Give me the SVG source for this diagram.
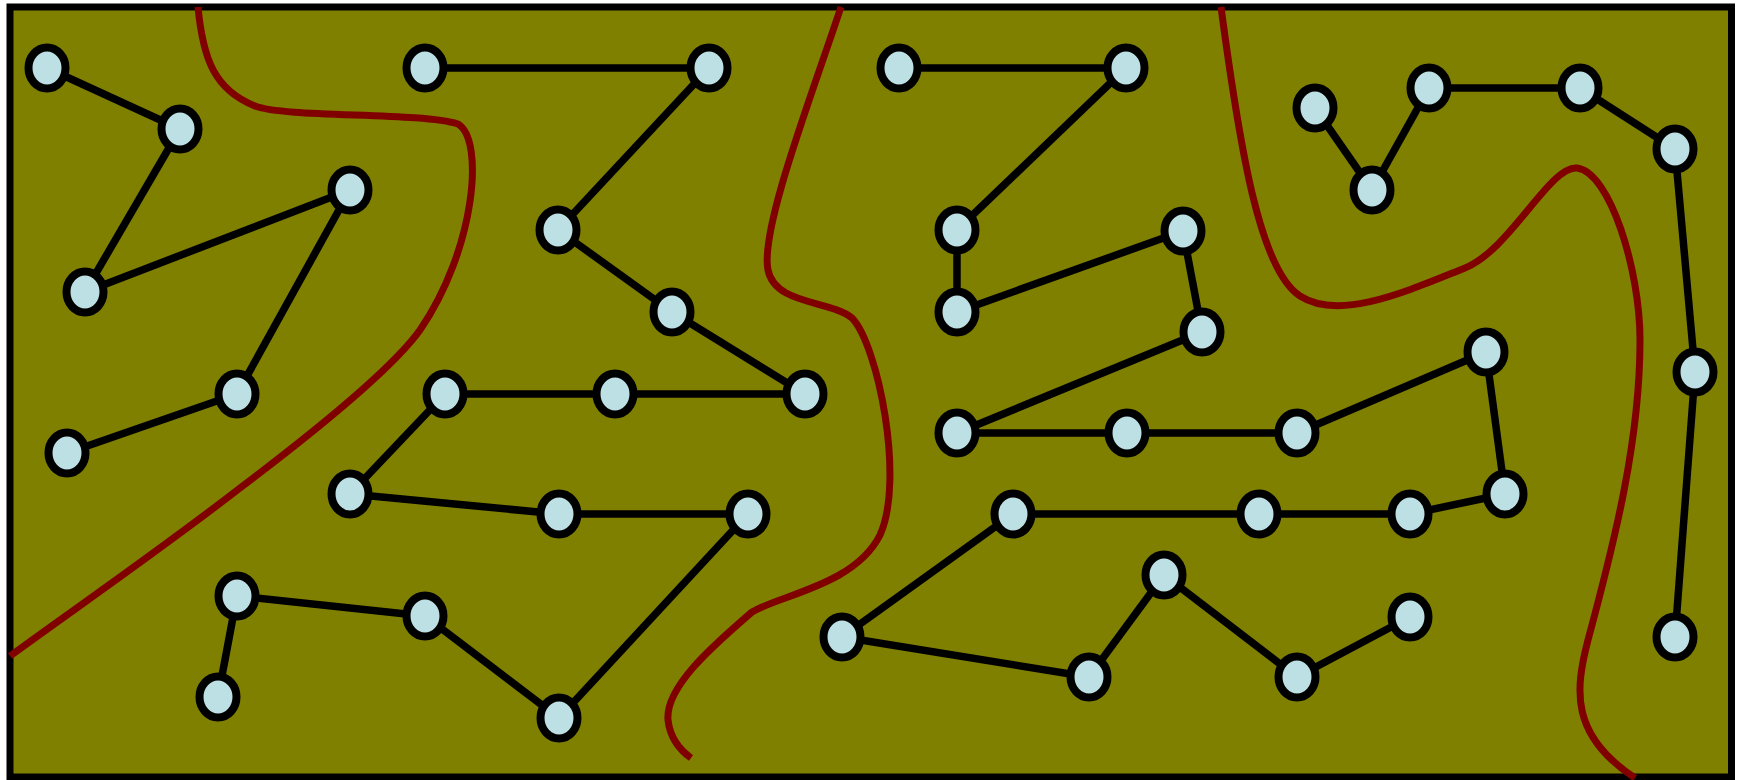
<svg xmlns="http://www.w3.org/2000/svg" width="1740" height="780" viewBox="0 0 1740 780">
<style>
.frame{fill:#808000;stroke:#000;stroke-width:7}
.border{fill:none;stroke:#800000;stroke-width:7}
.edge{stroke:#000;stroke-width:7.5;fill:none}
.node use{fill:#bde0e4;stroke:#000;stroke-width:8}
</style>
<defs>
<ellipse id="n" rx="18.5" ry="20.5"/>
</defs>
<rect class="frame" x="10" y="7" width="1721.5" height="770"/>
<g id="boundaries">
<path class="border" d="M 198 7 C 203 60, 215 90, 255 106 C 285 118, 420 112, 458 124 C 485 140, 475 250, 420 330 C 395 365, 330 420, 240 488 C 160 550, 80 605, 10 656"/>
<path class="border" d="M 841 7 C 810 100, 760 230, 768 270 C 775 305, 830 300, 852 318 C 878 345, 905 480, 880 535 C 855 585, 780 595, 752 612 C 720 640, 665 685, 668 720 C 670 738, 680 750, 691 758"/>
<path class="border" d="M 1221 7 C 1240 150, 1260 270, 1300 296 C 1340 322, 1410 290, 1465 268 C 1510 250, 1550 165, 1577 168 C 1610 172, 1640 270, 1640 340 C 1640 440, 1615 540, 1588 640 C 1575 690, 1570 735, 1635 778"/>
</g>
<g id="connectors" class="edge">
<line x1="47" y1="68" x2="180" y2="129"/>
<line x1="180" y1="129" x2="85" y2="292"/>
<line x1="85" y1="292" x2="350" y2="190"/>
<line x1="350" y1="190" x2="237" y2="394"/>
<line x1="237" y1="394" x2="67" y2="453"/>
<line x1="425" y1="68" x2="709" y2="68"/>
<line x1="709" y1="68" x2="558" y2="230"/>
<line x1="558" y1="230" x2="672" y2="312"/>
<line x1="672" y1="312" x2="805" y2="394"/>
<line x1="445" y1="394" x2="615" y2="394"/>
<line x1="615" y1="394" x2="805" y2="394"/>
<line x1="445" y1="394" x2="350" y2="494"/>
<line x1="350" y1="494" x2="559" y2="514"/>
<line x1="559" y1="514" x2="748" y2="514"/>
<line x1="748" y1="514" x2="559" y2="718"/>
<line x1="559" y1="718" x2="425" y2="616"/>
<line x1="425" y1="616" x2="237" y2="596"/>
<line x1="237" y1="596" x2="218" y2="697"/>
<line x1="899" y1="68" x2="1126" y2="68"/>
<line x1="1126" y1="68" x2="957" y2="230"/>
<line x1="957" y1="230" x2="957" y2="312"/>
<line x1="957" y1="312" x2="1183" y2="231"/>
<line x1="1183" y1="231" x2="1202" y2="332"/>
<line x1="1202" y1="332" x2="957" y2="433"/>
<line x1="957" y1="433" x2="1127" y2="433"/>
<line x1="1127" y1="433" x2="1297" y2="433"/>
<line x1="1297" y1="433" x2="1486" y2="352"/>
<line x1="1486" y1="352" x2="1505" y2="494"/>
<line x1="1505" y1="494" x2="1410" y2="514"/>
<line x1="1410" y1="514" x2="1259" y2="514"/>
<line x1="1259" y1="514" x2="1013" y2="514"/>
<line x1="1013" y1="514" x2="842" y2="637"/>
<line x1="842" y1="637" x2="1089" y2="677"/>
<line x1="1089" y1="677" x2="1164" y2="575"/>
<line x1="1164" y1="575" x2="1297" y2="677"/>
<line x1="1297" y1="677" x2="1410" y2="617"/>
<line x1="1315" y1="108" x2="1372" y2="190"/>
<line x1="1372" y1="190" x2="1429" y2="88"/>
<line x1="1429" y1="88" x2="1580" y2="88"/>
<line x1="1580" y1="88" x2="1675" y2="149"/>
<line x1="1675" y1="149" x2="1695" y2="372"/>
<line x1="1695" y1="372" x2="1675" y2="637"/>
</g>
<g class="node" id="n1"><use href="#n" x="47" y="68"/></g>
<g class="node" id="n2"><use href="#n" x="180" y="129"/></g>
<g class="node" id="n3"><use href="#n" x="85" y="292"/></g>
<g class="node" id="n4"><use href="#n" x="350" y="190"/></g>
<g class="node" id="n5"><use href="#n" x="237" y="394"/></g>
<g class="node" id="n6"><use href="#n" x="67" y="453"/></g>
<g class="node" id="n7"><use href="#n" x="425" y="68"/></g>
<g class="node" id="n8"><use href="#n" x="709" y="68"/></g>
<g class="node" id="n9"><use href="#n" x="558" y="230"/></g>
<g class="node" id="n10"><use href="#n" x="672" y="312"/></g>
<g class="node" id="n11"><use href="#n" x="445" y="394"/></g>
<g class="node" id="n12"><use href="#n" x="615" y="394"/></g>
<g class="node" id="n13"><use href="#n" x="805" y="394"/></g>
<g class="node" id="n14"><use href="#n" x="350" y="494"/></g>
<g class="node" id="n15"><use href="#n" x="559" y="514"/></g>
<g class="node" id="n16"><use href="#n" x="748" y="514"/></g>
<g class="node" id="n17"><use href="#n" x="237" y="596"/></g>
<g class="node" id="n18"><use href="#n" x="425" y="616"/></g>
<g class="node" id="n19"><use href="#n" x="218" y="697"/></g>
<g class="node" id="n20"><use href="#n" x="559" y="718"/></g>
<g class="node" id="n21"><use href="#n" x="899" y="68"/></g>
<g class="node" id="n22"><use href="#n" x="1126" y="68"/></g>
<g class="node" id="n23"><use href="#n" x="957" y="230"/></g>
<g class="node" id="n24"><use href="#n" x="957" y="312"/></g>
<g class="node" id="n25"><use href="#n" x="1183" y="231"/></g>
<g class="node" id="n26"><use href="#n" x="1202" y="332"/></g>
<g class="node" id="n27"><use href="#n" x="1315" y="108"/></g>
<g class="node" id="n28"><use href="#n" x="1372" y="190"/></g>
<g class="node" id="n29"><use href="#n" x="1429" y="88"/></g>
<g class="node" id="n30"><use href="#n" x="1580" y="88"/></g>
<g class="node" id="n31"><use href="#n" x="1675" y="149"/></g>
<g class="node" id="n32"><use href="#n" x="1486" y="352"/></g>
<g class="node" id="n33"><use href="#n" x="1695" y="372"/></g>
<g class="node" id="n34"><use href="#n" x="957" y="433"/></g>
<g class="node" id="n35"><use href="#n" x="1127" y="433"/></g>
<g class="node" id="n36"><use href="#n" x="1297" y="433"/></g>
<g class="node" id="n37"><use href="#n" x="1013" y="514"/></g>
<g class="node" id="n38"><use href="#n" x="1259" y="514"/></g>
<g class="node" id="n39"><use href="#n" x="1410" y="514"/></g>
<g class="node" id="n40"><use href="#n" x="1505" y="494"/></g>
<g class="node" id="n41"><use href="#n" x="842" y="637"/></g>
<g class="node" id="n42"><use href="#n" x="1089" y="677"/></g>
<g class="node" id="n43"><use href="#n" x="1164" y="575"/></g>
<g class="node" id="n44"><use href="#n" x="1297" y="677"/></g>
<g class="node" id="n45"><use href="#n" x="1410" y="617"/></g>
<g class="node" id="n46"><use href="#n" x="1675" y="637"/></g>
</svg>
